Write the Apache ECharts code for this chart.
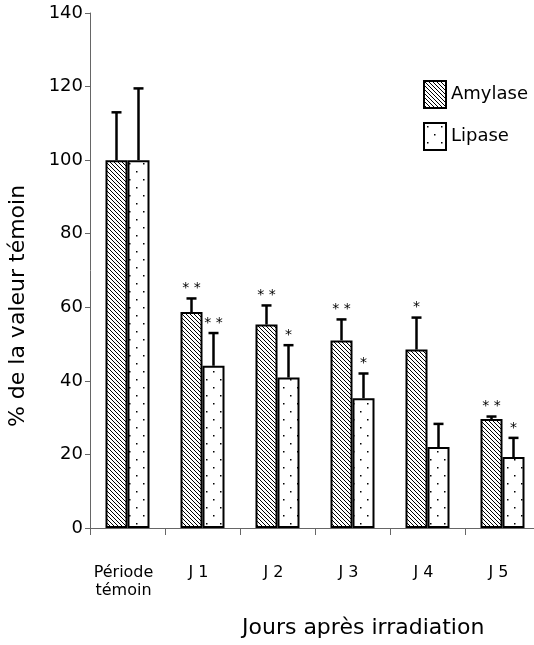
<!DOCTYPE html>
<html>
<head>
<meta charset="utf-8">
<script src="https://cdn.jsdelivr.net/npm/echarts@6/dist/echarts.min.js"></script>
<style>
  html, body { margin: 0; padding: 0; background: #fff; }
  #main { width: 534px; height: 645px; }
</style>
</head>
<body>
<div id="main"></div>
<script>
// data
var categories = ['Période\ntémoin', 'J 1', 'J 2', 'J 3', 'J 4', 'J 5'];
var amylase = [100, 58.7, 55.3, 51, 48.5, 29.6];
var amylaseSem = [13, 3.7, 5.2, 5.7, 8.7, 0.7];
var lipase = [100, 44.1, 40.9, 35.3, 22, 19.3];
var lipaseSem = [19.5, 8.9, 8.8, 6.7, 6.3, 5.2];
var amylaseStars = ['', '* *', '* *', '* *', '*', '* *'];
var lipaseStars = ['', '* *', '*', '*', '', '*'];
var yTicks = [0, 20, 40, 60, 80, 100, 120, 140];

var FONT = '"DejaVu Sans", sans-serif';

// hatch tile: "\" diagonals
function hatchTile() {
  var c = document.createElement('canvas');
  c.width = 4; c.height = 4;
  var ctx = c.getContext('2d');
  ctx.fillStyle = '#fff';
  ctx.fillRect(0, 0, 4, 4);
  ctx.fillStyle = '#000';
  for (var i = 0; i < 4; i++) ctx.fillRect(i, i, 1, 1);
  return c;
}

// sparse dot tile
function dotTile() {
  var c = document.createElement('canvas');
  c.width = 14; c.height = 16;
  var ctx = c.getContext('2d');
  ctx.fillStyle = '#fff';
  ctx.fillRect(0, 0, 14, 16);
  ctx.fillStyle = '#000';
  ctx.fillRect(3, 3, 1.5, 1.5);
  ctx.fillRect(10, 11, 1.5, 1.5);
  return c;
}

function errorSeries(vals, sems, stars, offset) {
  return {
    type: 'custom',
    silent: true,
    z: 5,
    data: vals.map(function (v, i) { return [i, v, sems[i]]; }),
    renderItem: function (params, api) {
      var i = api.value(0);
      var base = api.coord([i, api.value(1)]);
      var top = api.coord([i, api.value(1) + api.value(2)]);
      var x = base[0] + offset;
      var st = { stroke: '#000', lineWidth: 2.5 };
      return {
        type: 'group',
        children: [
          { type: 'line', shape: { x1: x, y1: base[1], x2: x, y2: top[1] }, style: st },
          { type: 'line', shape: { x1: x - 5, y1: top[1], x2: x + 5, y2: top[1] }, style: st },
          { type: 'text', style: {
              x: x, y: top[1] - 17, text: stars[params.dataIndex],
              fill: '#000', font: '14px ' + FONT, align: 'center', verticalAlign: 'top'
            } }
        ]
      };
    }
  };
}

var chart = echarts.init(document.getElementById('main'));
chart.setOption({
  animation: false,
  backgroundColor: '#fff',
  textStyle: { fontFamily: FONT, color: '#000' },
  grid: { left: 90, top: 13, width: 450, bottom: 117, outerBoundsMode: 'none', containLabel: false },
  legend: {
    data: ['Amylase', 'Lipase'],
    orient: 'vertical',
    left: 418, top: 75,
    itemWidth: 22, itemHeight: 27, itemGap: 13,
    icon: 'rect',
    textStyle: { fontSize: 18, color: '#000', fontFamily: FONT }
  },
  xAxis: {
    type: 'category',
    data: categories,
    axisLine: { lineStyle: { color: '#666', width: 1 } },
    axisTick: { show: true, length: 7, lineStyle: { color: '#666' } },
    axisLabel: { margin: 36, fontSize: 16, color: '#000', fontFamily: FONT, lineHeight: 18, interval: 0, padding: [0, 8, 0, 0] }
  },
  yAxis: {
    type: 'value',
    min: yTicks[0], max: yTicks[yTicks.length - 1], interval: 20,
    axisLine: { show: true, lineStyle: { color: '#666', width: 1 } },
    axisTick: { show: true, length: 5, lineStyle: { color: '#666' } },
    axisLabel: { margin: 7, fontSize: 18, color: '#000', fontFamily: FONT },
    splitLine: { show: false }
  },
  graphic: [
    {
      type: 'text', left: 242, top: 617,
      style: { text: 'Jours après irradiation', font: '22px ' + FONT, fill: '#000' }
    },
    {
      type: 'text', x: 18, y: 306, rotation: Math.PI / 2,
      style: { text: '% de la valeur témoin', font: '22px ' + FONT, fill: '#000', align: 'center', verticalAlign: 'middle' }
    }
  ],
  series: [
    {
      name: 'Amylase', type: 'bar', data: amylase,
      barWidth: 22, barGap: '0%',
      itemStyle: { color: { image: hatchTile(), repeat: 'repeat' }, borderColor: '#000', borderWidth: 2 }
    },
    {
      name: 'Lipase', type: 'bar', data: lipase,
      barWidth: 22, barGap: '0%',
      itemStyle: { color: { image: dotTile(), repeat: 'repeat' }, borderColor: '#000', borderWidth: 2 }
    },
    errorSeries(amylase, amylaseSem, amylaseStars, -11),
    errorSeries(lipase, lipaseSem, lipaseStars, 11)
  ]
});
</script>
</body>
</html>
